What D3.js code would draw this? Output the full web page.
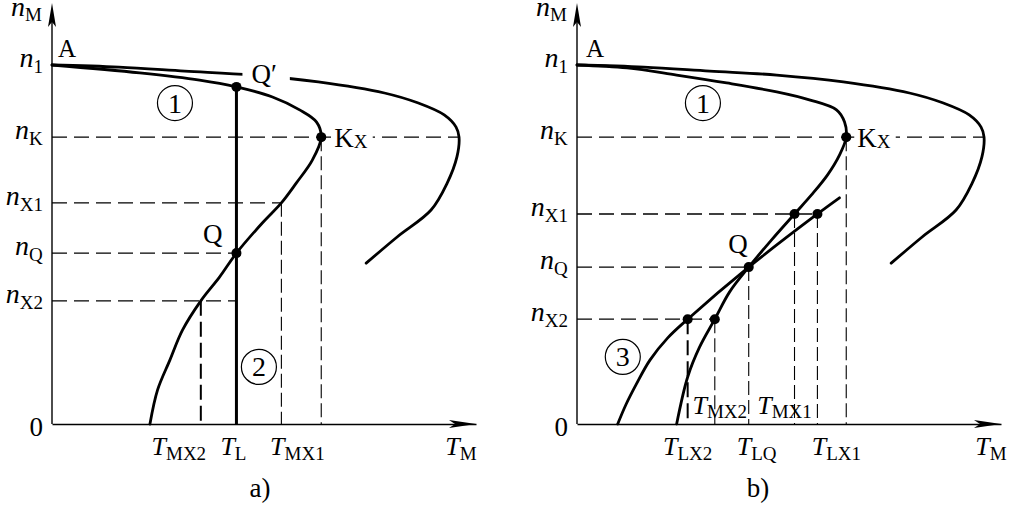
<!DOCTYPE html>
<html><head><meta charset="utf-8">
<script src="https://cdn.jsdelivr.net/npm/d3@7"></script>
<style>
body{margin:0;background:#fff}
svg{display:block}
text{font-family:"Liberation Serif","Times New Roman",serif;fill:#000}
</style></head><body>
<svg id="chart" width="1010" height="508"></svg>
<script>
// ---------- data (T = torque units 0..100, n = speed units 0..100) ----------
const outerCurve = [[0,100],[15.8,99.4],[31.3,98.3],[47.1,97.2],[62.8,95.3],[78.4,92.2],[86.4,89.4],[92.5,86.1],[95.3,82.7],[96.0,79.9],[95.5,74.4],[93.2,67.1],[89.4,59.6],[81.4,52.1],[74.1,44.8]];
const curve1A = [[0,100],[20.7,97.8],[34.8,95.8],[43.5,93.9],[52.0,91.1],[58.4,87.5],[62.4,84.1],[63.5,79.9],[61.4,73.5],[57.6,67.1],[54.1,61.6],[49.6,56.0],[43.5,47.6],[39.5,40.9],[35.1,34.3],[30.8,26.2],[27.8,17.8],[24.9,9.5],[23.1,0]];
const curve1B = [[0,100],[11.8,99.2],[23.5,97.2],[35.3,95.0],[47.1,92.5],[54.8,90.3],[61.2,87.5],[63.1,84.1],[63.5,79.9],[61.9,74.9],[59.1,69.4],[55.3,63.8],[51.3,58.5],[45.9,51.3],[40.5,43.7],[36.0,36.8],[32.5,29.2],[28.9,21.4],[26.1,13.1],[23.5,0]];
const curve3B = [[61.9,63.0],[56.7,58.5],[40.5,43.7],[26.1,29.2],[21.4,24.0],[17.2,17.8],[13.9,10.9],[11.5,5.3],[9.6,0]];

const nTickSubs = ["1","K","X1","Q","X2"];
const nTicksA = [100, 79.9, 61.6, 47.6, 34.3];
const nTicksB = [100, 79.9, 58.5, 43.7, 29.2];

const tSubsA = ["MX2","L","MX1"];
const tValsA = [35.1, 43.5, 54.1];
const tSubsB = ["LX2","LQ","LX1"];
const tValsB = [26.1, 40.5, 56.7];
const tSubsBUpper = ["MX2","MX1"];
const tValsBUpper = [32.5, 51.3];

const tK = 63.5;           // torque at critical point Kx
const tOuterMax = 96.0;    // max torque of outer curve
const tLoad = 43.5;        // T_L (constant load, panel a)
const nQprime = 93.9;      // speed at Q'

const dotsA = [[43.5,93.9],[63.5,79.9],[43.5,47.6]];
const dotsB = [[63.5,79.9],[51.3,58.5],[56.7,58.5],[40.5,43.7],[26.1,29.2],[32.5,29.2]];

const circledA = [["1",29.0,89.4],["2",48.8,15.9]];
const circledB = [["1",29.7,89.4],["3",10.8,18.7]];

// ---------- drawing ----------
const svg = d3.select("#chart");
const Y0 = 424, Y100 = 65, AXLEN = 424;

function makeScales(ax){
  return {
    x: d3.scaleLinear().domain([0,100]).range([ax, ax+AXLEN]),
    y: d3.scaleLinear().domain([0,100]).range([Y0, Y100])
  };
}

function subText(g, x, y, main, sub, o={}){
  const t = g.append("text").attr("x",x).attr("y",y)
    .style("font-size", (o.size||26)+"px");
  t.append("tspan").text(main).style("font-style", o.upright?"normal":"italic");
  if(sub) t.append("tspan").text(sub).attr("dy", o.dy!=null?o.dy:6)
      .style("font-size",(o.subSize||19)+"px").style("font-style","normal");
  const anchor = o.anchor||"start";
  if(anchor!=="start"){
    const w = t.node().getBBox().width;
    t.attr("x", anchor==="end" ? x-w : x-w/2);
  }
  return t;
}

const lineGen = (s)=> d3.line().x(d=>s.x(d[0])).y(d=>s.y(d[1])).curve(d3.curveCatmullRom.alpha(0.5));

function drawAxes(g, s, ax){
  const xAxis = d3.axisBottom(s.x).tickValues([]).tickSizeOuter(0);
  g.append("g").attr("transform",`translate(0,${Y0})`).call(xAxis)
    .select(".domain").attr("stroke","#000").attr("stroke-width",1.6);
  g.append("line").attr("x1",ax).attr("x2",ax).attr("y1",Y0).attr("y2",10)
    .attr("stroke","#000").attr("stroke-width",1.4);
  const tipY = 3;
  g.append("path").attr("d",`M${ax},${tipY} L${ax-4},${tipY+24} L${ax},${tipY+19} L${ax+4},${tipY+24} Z`).attr("fill","#000");
  const tipX = ax+AXLEN;
  g.append("path").attr("d",`M${tipX},${Y0} L${tipX-27},${Y0-4} L${tipX-21},${Y0} L${tipX-27},${Y0+4} Z`).attr("fill","#000");
  subText(g, ax-10, 16, "n", "M", {anchor:"end", dy:5, size:28});
  g.append("text").attr("x",ax-9).attr("y",Y0+12).attr("text-anchor","end").style("font-size","27px").text("0");
}

function hLine(g, s, n, t0, t1, w, dash){
  return g.append("line").attr("x1",s.x(t0)).attr("x2",s.x(t1)).attr("y1",s.y(n)).attr("y2",s.y(n))
    .attr("stroke","#000").attr("stroke-width",w).attr("stroke-dasharray",dash);
}
function vLine(g, s, t, n0, n1, w, dash){
  return g.append("line").attr("x1",s.x(t)).attr("x2",s.x(t)).attr("y1",s.y(n0)).attr("y2",s.y(n1))
    .attr("stroke","#000").attr("stroke-width",w).attr("stroke-dasharray",dash||null);
}

function maskFor(id, boxes){
  const defs = svg.select("defs").empty()? svg.append("defs") : svg.select("defs");
  const m = defs.append("mask").attr("id",id).attr("maskUnits","userSpaceOnUse")
    .attr("x",0).attr("y",0).attr("width",1010).attr("height",508);
  m.append("rect").attr("width",1010).attr("height",508).attr("fill","#fff");
  boxes.forEach(([b,pl,pr])=>{
    m.append("rect").attr("x",b.x-pl).attr("y",b.y-2).attr("width",b.width+pl+pr).attr("height",b.height+4).attr("fill","#000");
  });
  return `url(#${id})`;
}

const HD = "15,7", VD = "14,5";

function panel(opts){
  const ax = opts.ax, s = makeScales(ax);
  const g = svg.append("g");
  drawAxes(g, s, ax);
  nTickSubs.forEach((sb,i)=>{
    subText(g, ax-9, s.y(opts.nTicks[i])+2, "n", sb, {anchor:"end", dy:6, size:28});
  });
  const lblK = subText(g, s.x(tK)+opts.kdx, s.y(79.9)+10, "K", "X", {upright:true, dy:1, size:27, subSize:19});
  const boxes = [[lblK.node().getBBox(),3,5]];
  if(opts.qPrime){
    const lblQp = g.append("text").attr("x",s.x(tLoad)+15).attr("y",s.y(nQprime)-4).style("font-size","27px").text("Q\u2032");
    boxes.push([lblQp.node().getBBox(),9,13]);
  }
  const mask = maskFor("mask"+opts.name, boxes);

  const lines = g.append("g").attr("mask",mask);
  hLine(lines, s, 79.9, 0, tOuterMax, 1.3, HD);
  opts.guides(g, s);
  lines.append("path").attr("d",lineGen(s)(outerCurve)).attr("fill","none").attr("stroke","#000").attr("stroke-width",2.8).attr("stroke-linecap","round");
  opts.curves.forEach(c=>{
    g.append("path").attr("d",lineGen(s)(c)).attr("fill","none").attr("stroke","#000").attr("stroke-width",2.8).attr("stroke-linecap","round");
  });
  opts.extra && opts.extra(g, s);
  opts.dots.forEach(d=> g.append("circle").attr("cx",s.x(d[0])).attr("cy",s.y(d[1])).attr("r",5).attr("fill","#000"));
  opts.circled.forEach(([lab,t,n])=>{
    g.append("circle").attr("cx",s.x(t)).attr("cy",s.y(n)).attr("r",17.5).attr("fill","#fff").attr("stroke","#000").attr("stroke-width",1.2);
    g.append("text").attr("x",s.x(t)).attr("y",s.y(n)+9.5).attr("text-anchor","middle").style("font-size","28px").text(lab);
  });
  g.append("text").attr("x",ax+opts.adx).attr("y",57).style("font-size","25px").text("A");
  g.append("text").attr("x",opts.qx(s)).attr("y",opts.qy(s)).attr("text-anchor","end").style("font-size","27px").text("Q");
  opts.tSubs.forEach((sb,i)=> subText(g, s.x(opts.tVals[i])+opts.tdx[i], 455, "T", sb, {anchor:"middle", dy:5}));
  subText(g, ax+opts.tmdx, 455, "T", "M", {anchor:"middle", dy:5});
  g.append("text").attr("x",ax+opts.capdx).attr("y",497).attr("text-anchor","middle").style("font-size","27px").text(opts.caption);
  return {g,s};
}

// Panel a
panel({
  name:"a", ax:52, nTicks:nTicksA, kdx:13, qPrime:true,
  curves:[curve1A], dots:dotsA, circled:circledA, adx:6,
  qx:s=>s.x(tLoad)-14, qy:s=>s.y(47.6)-10,
  tSubs:tSubsA, tVals:tValsA, tdx:[-22,-3,16], tmdx:409, capdx:208, caption:"a)",
  guides:(g,s)=>{
    hLine(g, s, nTicksA[2], 0, tValsA[2], 1.3, HD);
    hLine(g, s, nTicksA[3], 0, tLoad, 1.3, HD);
    hLine(g, s, nTicksA[4], 0, tLoad, 1.3, HD);
    vLine(g, s, tValsA[0], nTicksA[4], 0, 2, "15,6");
    vLine(g, s, tValsA[2], nTicksA[2], 0, 1.1, VD);
    vLine(g, s, tK, 79.9, 0, 1.1, VD);
  },
  extra:(g,s)=>{
    vLine(g, s, tLoad, nQprime, 0, 3, null);
  }
});

// Panel b
panel({
  name:"b", ax:577, nTicks:nTicksB, kdx:11, qPrime:false,
  curves:[curve1B, curve3B], dots:dotsB, circled:circledB, adx:9,
  qx:s=>s.x(40.5)-1, qy:s=>s.y(43.7)-14,
  tSubs:tSubsB, tVals:tValsB, tdx:[0,8,19], tmdx:414, capdx:181, caption:"b)",
  guides:(g,s)=>{
    hLine(g, s, nTicksB[2], 0, tValsB[2], 1.3, HD);
    hLine(g, s, nTicksB[3], 0, tValsB[1], 1.3, HD);
    hLine(g, s, nTicksB[4], 0, tValsBUpper[0], 1.3, HD);
    vLine(g, s, tValsB[0], nTicksB[4], 0, 2, "15,6");
    vLine(g, s, tValsBUpper[0], nTicksB[4], 0, 1.1, VD);
    vLine(g, s, tValsB[1], nTicksB[3], 0, 1.1, VD);
    vLine(g, s, tValsBUpper[1], nTicksB[2], 0, 1.1, VD);
    vLine(g, s, tValsB[2], nTicksB[2], 0, 1.1, VD);
    vLine(g, s, tK, 79.9, 0, 1.1, VD);
  },
  extra:(g,s)=>{
    tSubsBUpper.forEach((sb,i)=> subText(g, s.x(tValsBUpper[i])+[5,-10][i], 414, "T", sb, {anchor:"middle", dy:4}));
  }
});
</script>
</body></html>
